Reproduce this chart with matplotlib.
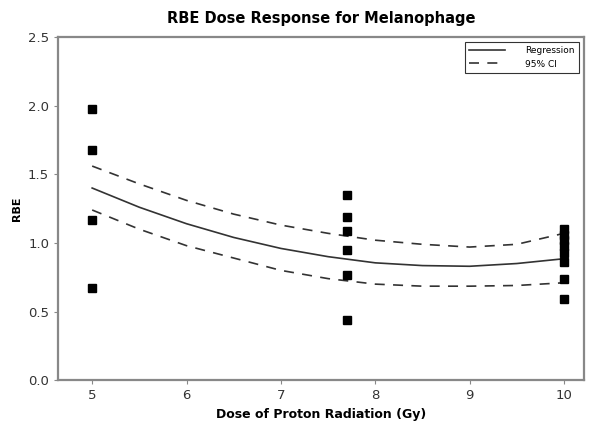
import matplotlib
matplotlib.use("Agg")
import matplotlib.pyplot as plt

# observed RBE values per dose
dose_5 = [1.975, 1.68, 1.165, 0.67]
dose_77 = [1.35, 1.19, 1.09, 0.95, 0.765, 0.435]
dose_10 = [1.10, 1.06, 1.02, 0.98, 0.93, 0.86, 0.74, 0.59]

# fitted curve and 95% CI
fit_x = [5, 5.5, 6, 6.5, 7, 7.5, 8, 8.5, 9, 9.5, 10]
fit_y = [1.40, 1.26, 1.14, 1.04, 0.96, 0.90, 0.855, 0.835, 0.83, 0.85, 0.885]
ci_upper = [1.56, 1.43, 1.31, 1.21, 1.13, 1.07, 1.02, 0.99, 0.97, 0.99, 1.07]
ci_lower = [1.24, 1.10, 0.98, 0.89, 0.80, 0.74, 0.70, 0.685, 0.685, 0.69, 0.71]

xs = [5] * len(dose_5) + [7.7] * len(dose_77) + [10] * len(dose_10)
ys = dose_5 + dose_77 + dose_10

plt.rcParams['font.family'] = ['DejaVu Sans']

fig = plt.figure(figsize=(6, 4.36), dpi=100)
ax = fig.add_axes([0.097, 0.128, 0.876, 0.787])

ax.plot(fit_x, fit_y, color='#333333', lw=1.2, label='Regression')
ax.plot(fit_x, ci_upper, color='#333333', lw=1.2, ls=(0, (6, 5)), label='95% CI')
ax.plot(fit_x, ci_lower, color='#333333', lw=1.2, ls=(0, (6, 5)))
ax.plot(xs, ys, ls='none', marker='s', ms=5.5, color='black')

ax.set_xlim(4.64, 10.21)
ax.set_ylim(0, 2.5)
ax.set_xticks([5, 6, 7, 8, 9, 10])
ax.set_yticks([0.0, 0.5, 1.0, 1.5, 2.0, 2.5])
ax.set_yticklabels(['0.0', '0.5', '1.0', '1.5', '2.0', '2.5'])
ax.tick_params(direction='out', length=3, color='#888888', labelsize=9.5, labelcolor='#333333')
for s in ax.spines.values():
    s.set_color('#888888')
    s.set_linewidth(1.6)

ax.set_title('RBE Dose Response for Melanophage', fontsize=10.5, fontweight='bold', pad=10)
ax.set_xlabel('Dose of Proton Radiation (Gy)', fontsize=9, fontweight='bold')
ax.set_ylabel('RBE', fontsize=8, fontweight='bold')

leg = ax.legend(loc='upper right', fontsize=6.5, frameon=True, fancybox=False,
                edgecolor='black', handlelength=4, handletextpad=2.2,
                borderaxespad=0.5, borderpad=0.5)
leg.get_frame().set_linewidth(0.8)

fig.savefig('out.png', dpi=100)
